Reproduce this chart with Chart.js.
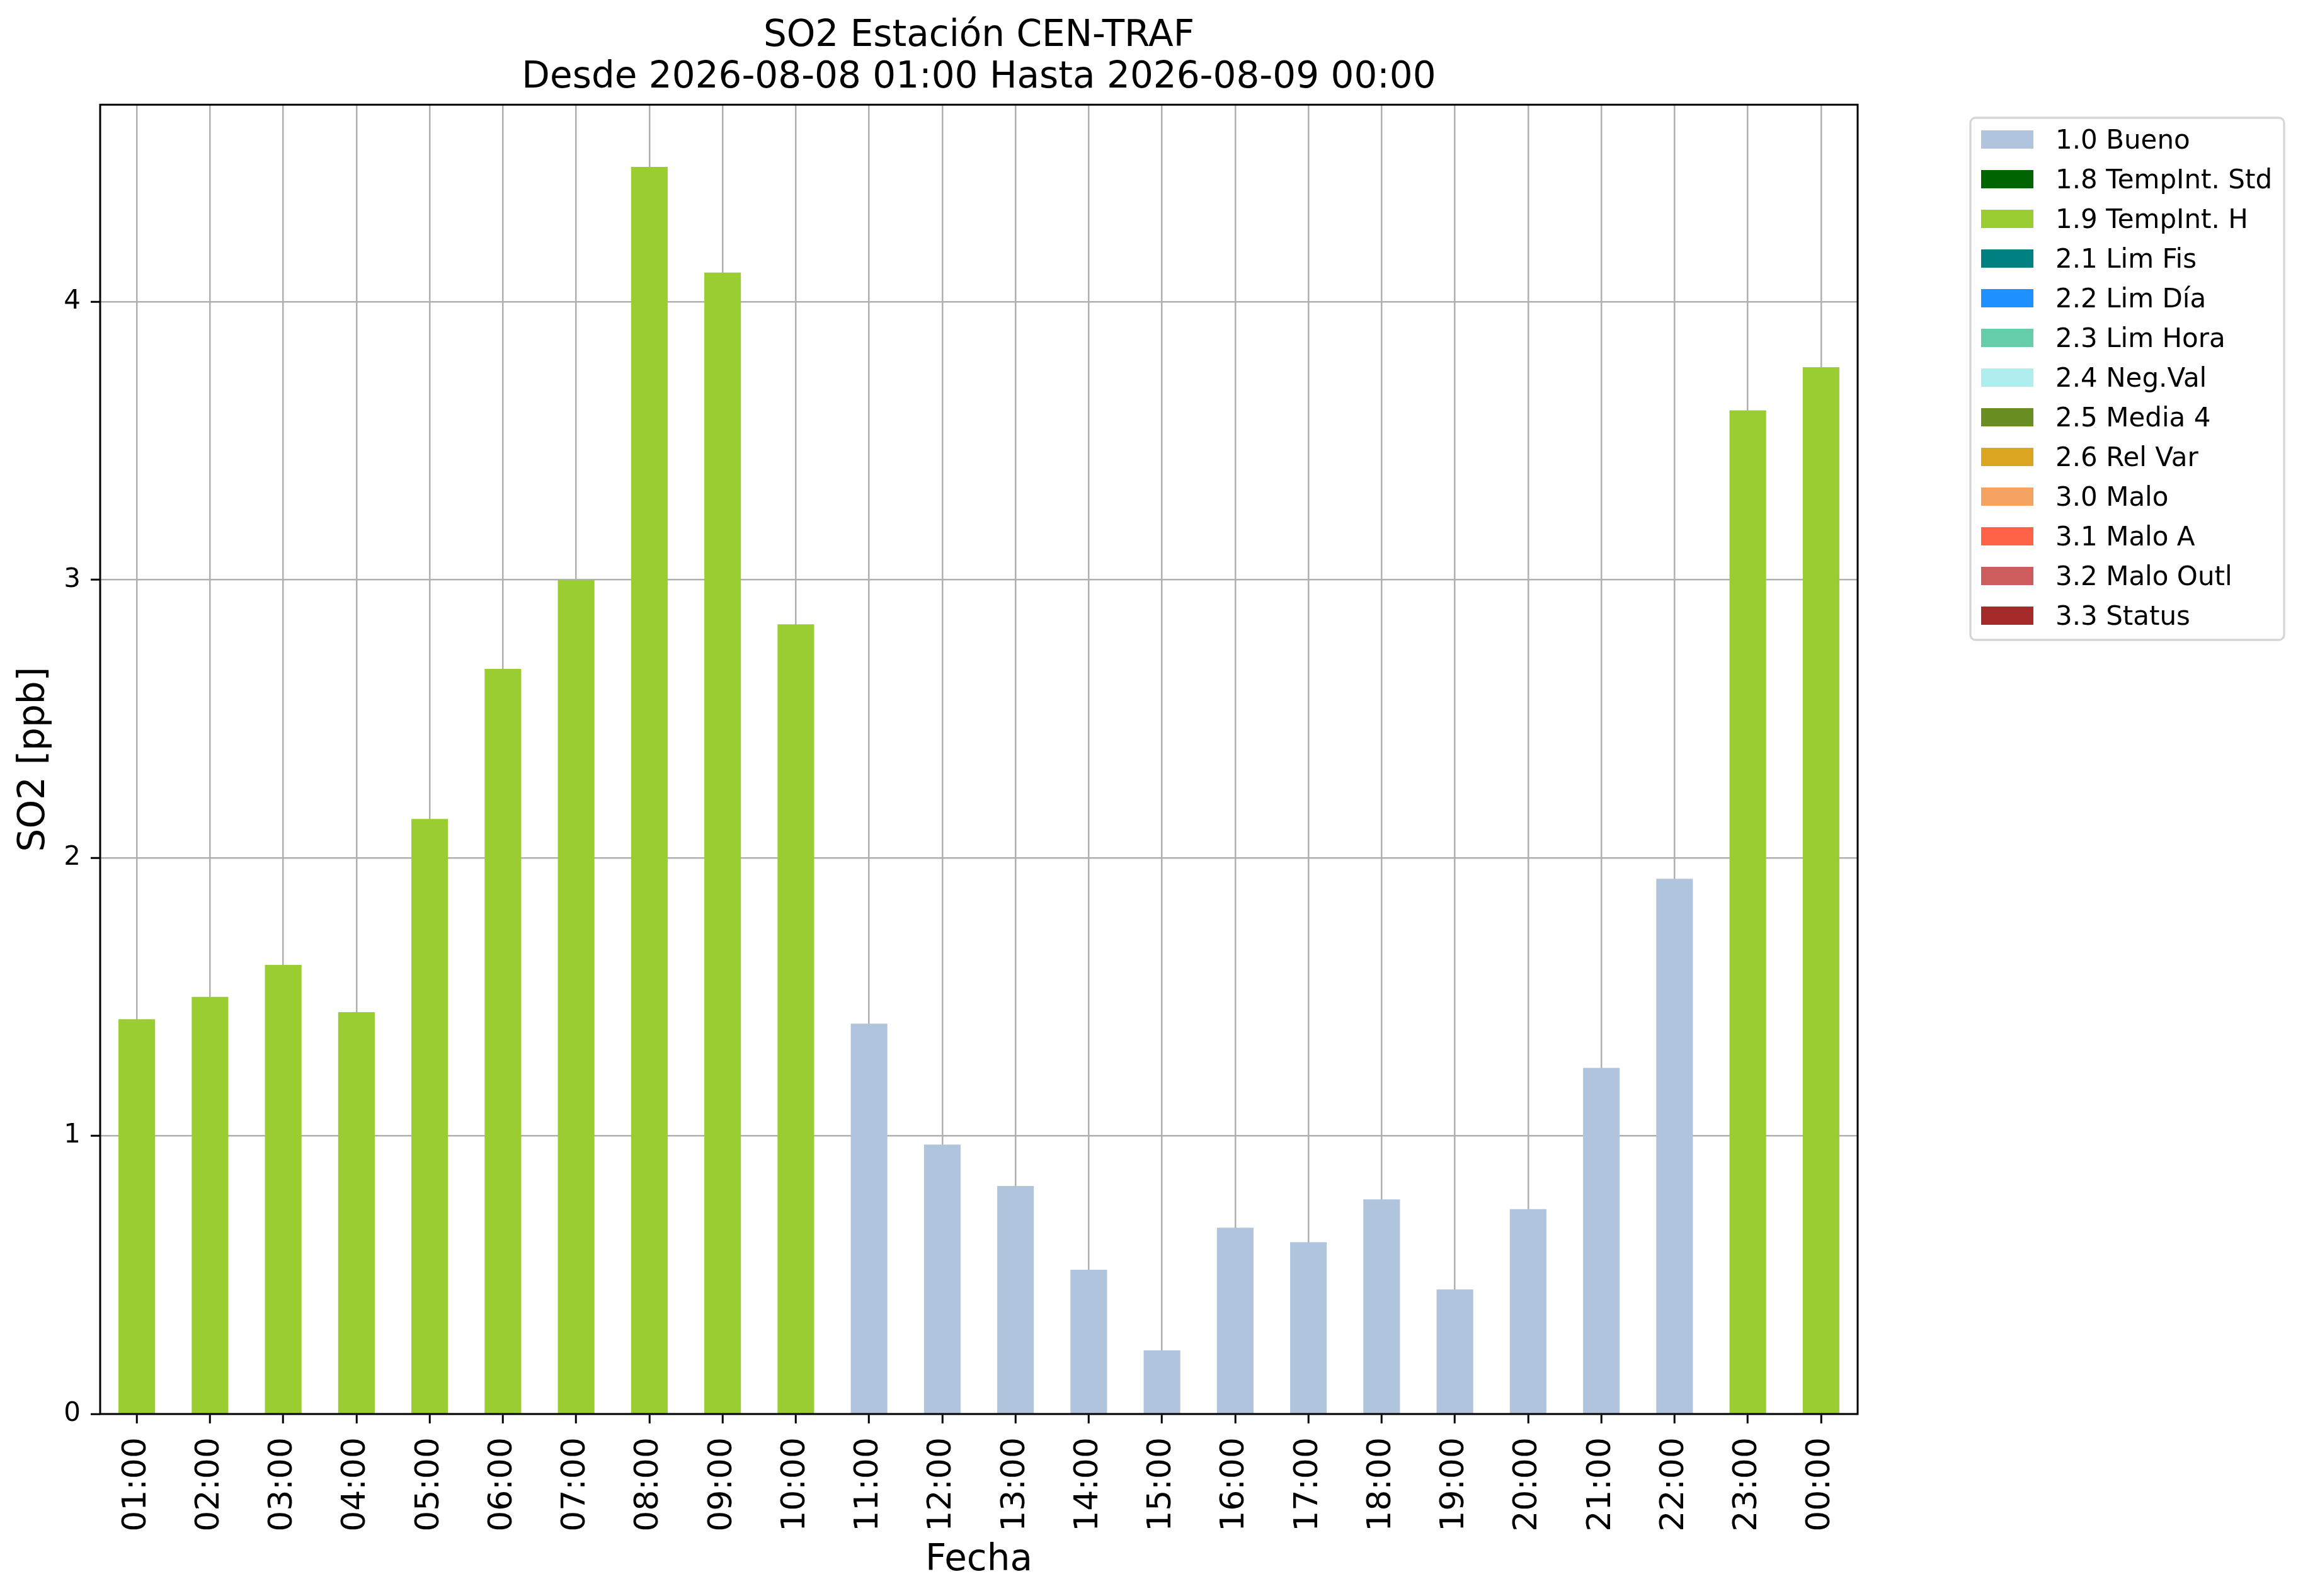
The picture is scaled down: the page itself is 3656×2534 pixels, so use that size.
<!DOCTYPE html>
<html>
<head>
<meta charset="utf-8">
<script src="https://cdn.jsdelivr.net/npm/chart.js@4"></script>
<style>
  html, body { margin: 0; padding: 0; background: #fff; }
  #wrap { width: 3656px; height: 2534px; }
</style>
</head>
<body>
<div id="wrap"><canvas id="so2Chart" width="3656" height="2534"></canvas></div>
<script>
// ---- data ----
const hours = ['01:00', '02:00', '03:00', '04:00', '05:00', '06:00', '07:00', '08:00',
  '09:00', '10:00', '11:00', '12:00', '13:00', '14:00', '15:00', '16:00',
  '17:00', '18:00', '19:00', '20:00', '21:00', '22:00', '23:00', '00:00'];

const so2 = [1.42, 1.50, 1.615, 1.445, 2.14, 2.68, 3.00, 4.485,
  4.105, 2.84, 1.404, 0.969, 0.82, 0.519, 0.229, 0.67,
  0.618, 0.772, 0.448, 0.737, 1.245, 1.925, 3.61, 3.765];

// quality flag of each hour
const hourFlags = ['1.9', '1.9', '1.9', '1.9', '1.9', '1.9', '1.9', '1.9',
  '1.9', '1.9', '1.0', '1.0', '1.0', '1.0', '1.0', '1.0',
  '1.0', '1.0', '1.0', '1.0', '1.0', '1.0', '1.9', '1.9'];

const flagCodes = ['1.0', '1.8', '1.9', '2.1', '2.2', '2.3', '2.4', '2.5', '2.6', '3.0', '3.1', '3.2', '3.3'];
const flagNames = ['Bueno', 'TempInt. Std', 'TempInt. H', 'Lim Fis', 'Lim Día', 'Lim Hora',
  'Neg.Val', 'Media 4', 'Rel Var', 'Malo', 'Malo A', 'Malo Outl', 'Status'];
const flagColors = ['#B0C4DE', '#006400', '#9ACD32', '#008080', '#1E90FF', '#66CDAA',
  '#AFEEEE', '#6B8E23', '#DAA520', '#F4A460', '#FF6347', '#CD5C5C', '#A52A2A'];

const yTicks = [0, 1, 2, 3, 4];
const yMax = 4.709;

const titleLines = ['SO2 Estación CEN-TRAF', 'Desde 2026-08-08 01:00 Hasta 2026-08-09 00:00'];

// one stacked dataset per flag, value only where the hour has that flag
const datasets = flagCodes.map((code, i) => ({
  label: code + ' ' + flagNames[i],
  data: so2.map((v, h) => hourFlags[h] === code ? v : null),
  backgroundColor: flagColors[i],
  borderWidth: 0,
  barPercentage: 0.5,
  categoryPercentage: 1.0
}));

const FONT = "'DejaVu Sans', 'Liberation Sans', sans-serif";
Chart.defaults.font.family = FONT;
Chart.defaults.color = '#000';

// black frame round the axes + matplotlib style legend box
const framePlugin = {
  id: 'frameLegend',
  afterDraw(chart) {
    const { ctx, chartArea: a } = chart;
    ctx.save();
    ctx.strokeStyle = '#000';
    ctx.lineWidth = 3;
    ctx.strokeRect(a.left, a.top, a.right - a.left, a.bottom - a.top);

    // legend frame
    const bx = 3128, by = 187, bw = 498, bh = 829, r = 8;
    ctx.beginPath();
    ctx.moveTo(bx + r, by);
    ctx.arcTo(bx + bw, by, bx + bw, by + bh, r);
    ctx.arcTo(bx + bw, by + bh, bx, by + bh, r);
    ctx.arcTo(bx, by + bh, bx, by, r);
    ctx.arcTo(bx, by, bx + bw, by, r);
    ctx.closePath();
    ctx.fillStyle = '#fff';
    ctx.fill();
    ctx.strokeStyle = '#d6d6d6';
    ctx.lineWidth = 3.3;
    ctx.stroke();

    ctx.font = '42px ' + FONT;
    ctx.textAlign = 'left';
    ctx.textBaseline = 'alphabetic';
    chart.data.datasets.forEach((ds, i) => {
      const cy = 221.5 + i * 63;
      ctx.fillStyle = ds.backgroundColor;
      ctx.fillRect(3145, cy - 14.5, 83, 29);
      ctx.fillStyle = '#000';
      ctx.fillText(ds.label, 3263, cy + 14);
    });
    ctx.restore();
  }
};

new Chart(document.getElementById('so2Chart').getContext('2d'), {
  type: 'bar',
  data: { labels: hours, datasets: datasets },
  plugins: [framePlugin],
  options: {
    responsive: false,
    devicePixelRatio: 1,
    animation: false,
    layout: { padding: { left: 0, right: 707, top: 0, bottom: 0 } },
    plugins: {
      legend: { display: false },
      tooltip: { enabled: false },
      title: {
        display: true,
        text: titleLines,
        fullSize: false,
        color: '#000',
        font: { size: 58, weight: 'normal', lineHeight: 1.14 },
        padding: { top: 25, bottom: 9 }
      }
    },
    scales: {
      x: {
        stacked: true,
        z: 1,
        offset: true,
        afterFit: (scale) => { scale.height = 289; },
        grid: {
          offset: false,
          color: '#b0b0b0',
          lineWidth: 2.5,
          drawTicks: true,
          tickLength: 15,
          tickColor: '#000',
          tickWidth: 3
        },
        border: { display: false },
        ticks: {
          color: '#000',
          font: { size: 52 },
          minRotation: 90,
          maxRotation: 90,
          autoSkip: false,
          padding: 22
        },
        title: {
          display: true,
          text: 'Fecha',
          color: '#000',
          font: { size: 58 },
          padding: { top: 0, bottom: 21 }
        }
      },
      y: {
        stacked: true,
        z: 1,
        min: 0,
        max: yMax,
        afterFit: (scale) => { scale.width = 159; },
        afterBuildTicks: (scale) => {
          scale.ticks = yTicks.map(v => ({ value: v }));
        },
        grid: {
          color: '#b0b0b0',
          lineWidth: 2.5,
          drawTicks: true,
          tickLength: 15,
          tickColor: '#000',
          tickWidth: 3
        },
        border: { display: false },
        ticks: {
          color: '#000',
          font: { size: 42 },
          padding: 16
        },
        title: {
          display: true,
          text: 'SO2 [ppb]',
          color: '#000',
          font: { size: 58 },
          padding: { top: 20, bottom: 0 }
        }
      }
    }
  }
});
</script>
</body>
</html>
